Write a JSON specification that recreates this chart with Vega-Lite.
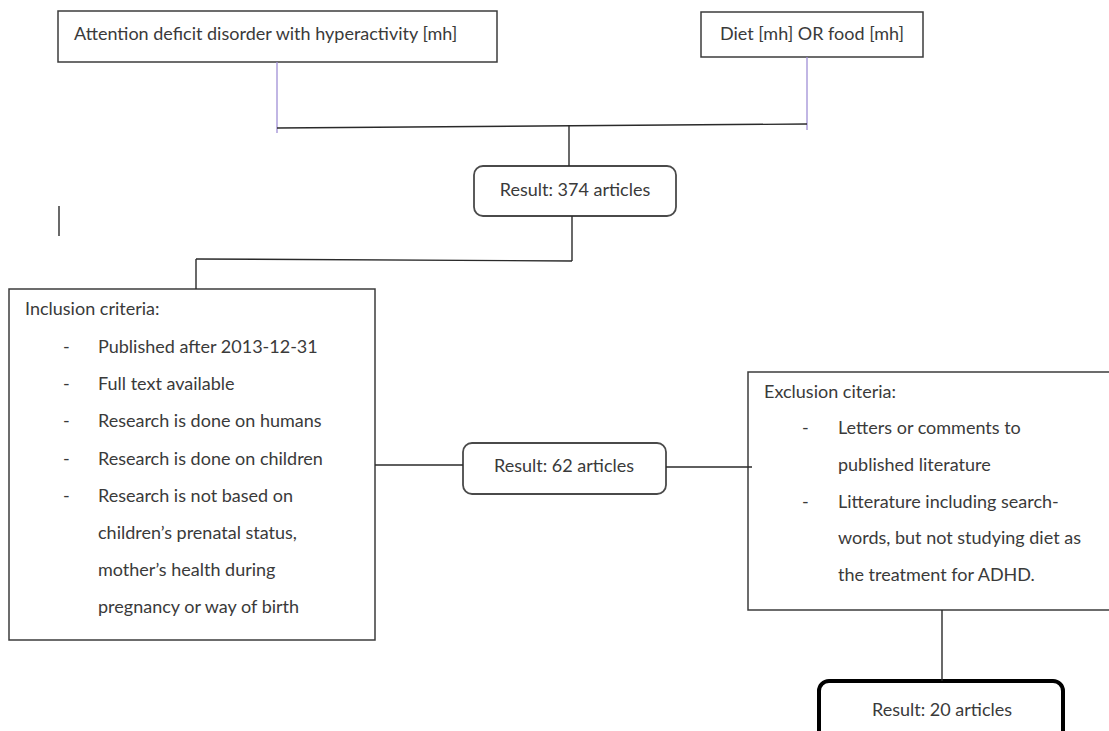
{
  "$schema": "https://vega.github.io/schema/vega-lite/v6.json",
  "width": 1109,
  "height": 731,
  "padding": 0,
  "autosize": {"type": "fit", "contains": "padding"},
  "background": "white",
  "config": {"view": {"stroke": null}},
  "datasets": {
    "boxes": [
      {"id": "q1", "kind": "square", "x": 58, "x2": 497, "y": 11, "y2": 62},
      {"id": "q2", "kind": "square", "x": 701, "x2": 923, "y": 12, "y2": 57},
      {"id": "r374", "kind": "rounded", "x": 474, "x2": 676, "y": 166, "y2": 216},
      {"id": "inc", "kind": "square", "x": 9, "x2": 375, "y": 289, "y2": 640},
      {"id": "r62", "kind": "rounded", "x": 463, "x2": 666, "y": 443, "y2": 494},
      {"id": "exc", "kind": "square", "x": 748, "x2": 1116, "y": 372, "y2": 610},
      {"id": "r20", "kind": "final", "x": 819, "x2": 1063, "y": 681, "y2": 740}
    ],
    "links": [
      {"kind": "purple", "x": 277, "y": 62, "x2": 277, "y2": 133},
      {"kind": "purple", "x": 807, "y": 57, "x2": 807, "y2": 130},
      {"kind": "dark", "x": 277, "y": 128, "x2": 807, "y2": 124},
      {"kind": "dark", "x": 569, "y": 125, "x2": 569, "y2": 166},
      {"kind": "dark", "x": 572, "y": 216, "x2": 572, "y2": 261},
      {"kind": "dark", "x": 196, "y": 259, "x2": 572, "y2": 261},
      {"kind": "dark", "x": 196, "y": 259, "x2": 196, "y2": 289},
      {"kind": "dark", "x": 59, "y": 206, "x2": 59, "y2": 236},
      {"kind": "dark", "x": 375, "y": 465, "x2": 463, "y2": 465},
      {"kind": "dark", "x": 666, "y": 467, "x2": 752, "y2": 467},
      {"kind": "dark", "x": 942, "y": 610, "x2": 942, "y2": 681}
    ],
    "labels": [
      {"role": "left", "text": "Attention deficit disorder with hyperactivity [mh]", "x": 74, "y": 35},
      {"role": "center", "text": "Diet [mh] OR food [mh]", "x": 812, "y": 35},
      {"role": "center", "text": "Result: 374 articles", "x": 575, "y": 191},
      {"role": "left", "text": "Inclusion criteria:", "x": 25, "y": 310},
      {"role": "left", "text": "-", "x": 63, "y": 348},
      {"role": "left", "text": "Published after 2013-12-31", "x": 98, "y": 348},
      {"role": "left", "text": "-", "x": 63, "y": 385},
      {"role": "left", "text": "Full text available", "x": 98, "y": 385},
      {"role": "left", "text": "-", "x": 63, "y": 422},
      {"role": "left", "text": "Research is done on humans", "x": 98, "y": 422},
      {"role": "left", "text": "-", "x": 63, "y": 460},
      {"role": "left", "text": "Research is done on children", "x": 98, "y": 460},
      {"role": "left", "text": "-", "x": 63, "y": 497},
      {"role": "left", "text": "Research is not based on", "x": 98, "y": 497},
      {"role": "left", "text": "children’s prenatal status,", "x": 98, "y": 534},
      {"role": "left", "text": "mother’s health during", "x": 98, "y": 571},
      {"role": "left", "text": "pregnancy or way of birth", "x": 98, "y": 608},
      {"role": "center", "text": "Result: 62 articles", "x": 564, "y": 467},
      {"role": "left", "text": "Exclusion citeria:", "x": 764, "y": 393},
      {"role": "left", "text": "-", "x": 802, "y": 429},
      {"role": "left", "text": "Letters or comments to", "x": 838, "y": 429},
      {"role": "left", "text": "published literature", "x": 838, "y": 466},
      {"role": "left", "text": "-", "x": 802, "y": 503},
      {"role": "left", "text": "Litterature including search-", "x": 838, "y": 503},
      {"role": "left", "text": "words, but not studying diet as", "x": 838, "y": 539},
      {"role": "left", "text": "the treatment for ADHD.", "x": 838, "y": 576},
      {"role": "center", "text": "Result: 20 articles", "x": 942, "y": 711}
    ]
  },
  "encoding": {
    "x": {"field": "x", "type": "quantitative", "scale": {"domain": [0, 1109], "nice": false, "zero": false}, "axis": null},
    "y": {"field": "y", "type": "quantitative", "scale": {"domain": [0, 731], "reverse": true, "nice": false, "zero": false}, "axis": null}
  },
  "layer": [
    {
      "data": {"name": "boxes"},
      "transform": [{"filter": "datum.kind === 'square'"}],
      "mark": {"type": "rect", "fill": "white", "stroke": "#3c3c3c", "strokeWidth": 1.5, "clip": true},
      "encoding": {"x2": {"field": "x2"}, "y2": {"field": "y2"}}
    },
    {
      "data": {"name": "boxes"},
      "transform": [{"filter": "datum.kind === 'rounded'"}],
      "mark": {"type": "rect", "fill": "white", "stroke": "#4a4a4a", "strokeWidth": 1.8, "cornerRadius": 9, "clip": true},
      "encoding": {"x2": {"field": "x2"}, "y2": {"field": "y2"}}
    },
    {
      "data": {"name": "boxes"},
      "transform": [{"filter": "datum.kind === 'final'"}],
      "mark": {"type": "rect", "fill": "white", "stroke": "#000000", "strokeWidth": 4, "cornerRadius": 10, "clip": true},
      "encoding": {"x2": {"field": "x2"}, "y2": {"field": "y2"}}
    },
    {
      "data": {"name": "links"},
      "transform": [{"filter": "datum.kind === 'purple'"}],
      "mark": {"type": "rule", "stroke": "#a08fd6", "strokeWidth": 1.3},
      "encoding": {"x2": {"field": "x2"}, "y2": {"field": "y2"}}
    },
    {
      "data": {"name": "links"},
      "transform": [{"filter": "datum.kind === 'dark'"}],
      "mark": {"type": "rule", "stroke": "#2a2a2a", "strokeWidth": 1.4},
      "encoding": {"x2": {"field": "x2"}, "y2": {"field": "y2"}}
    },
    {
      "data": {"name": "labels"},
      "transform": [{"filter": "datum.role === 'left'"}],
      "mark": {"type": "text", "align": "left", "baseline": "middle", "font": "Lato", "fontSize": 18, "fill": "#3a3a3a"},
      "encoding": {"text": {"field": "text"}}
    },
    {
      "data": {"name": "labels"},
      "transform": [{"filter": "datum.role === 'center'"}],
      "mark": {"type": "text", "align": "center", "baseline": "middle", "font": "Lato", "fontSize": 18, "fill": "#3a3a3a"},
      "encoding": {"text": {"field": "text"}}
    }
  ]
}
